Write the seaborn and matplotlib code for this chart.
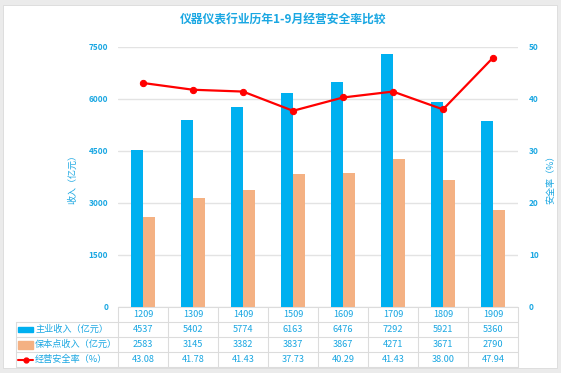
import numpy as np
import pandas as pd
import matplotlib
matplotlib.use('Agg')
import matplotlib.pyplot as plt
import matplotlib.transforms as mtransforms
from matplotlib.patches import Rectangle
from matplotlib.lines import Line2D
import seaborn as sns

# data
years = ['1209', '1309', '1409', '1509', '1609', '1709', '1809', '1909']
main_income = [4537, 5402, 5774, 6163, 6476, 7292, 5921, 5360]
breakeven_income = [2583, 3145, 3382, 3837, 3867, 4271, 3671, 2790]
safety_rate = [43.08, 41.78, 41.43, 37.73, 40.29, 41.43, 38.00, 47.94]
rate_labels = ['43.08', '41.78', '41.43', '37.73', '40.29', '41.43', '38.00', '47.94']
series_names = ['主业收入（亿元）', '保本点收入（亿元）', '经营安全率（%）']

blue = '#00B0F0'
orange = '#F4B183'
red = '#FF0000'
txt = '#1AA7E2'
grid = '#E3E3E3'

sns.set_theme(style='white')
plt.rcParams['font.family'] = ['Noto Sans CJK SC', 'DejaVu Sans']

fig = plt.figure(figsize=(5.61, 3.73), dpi=100)
fig.patch.set_facecolor('#EBEBEB')
fig.patches.append(Rectangle((3 / 561, 5 / 373), 554 / 561, 363 / 373,
                             transform=fig.transFigure, facecolor='white',
                             edgecolor='#DADADA', lw=0.6, zorder=-10))

ax = fig.add_axes([118 / 561, 1 - 307 / 373, 400 / 561, 260 / 373])
ax.set_facecolor('none')

df = pd.DataFrame({
    'year': years * 2,
    'value': main_income + breakeven_income,
    'series': [series_names[0]] * len(years) + [series_names[1]] * len(years),
})
sns.barplot(data=df, x='year', y='value', hue='series',
            palette=[blue, orange], width=0.48, ax=ax, legend=False,
            saturation=1, linewidth=0, zorder=3)

ax.set_ylim(0, 7500)
ax.set_yticks(np.arange(0, 7501, 1500))
ax.set_xlim(-0.5, len(years) - 0.5)
ax.set_xticks([])
ax.set_xlabel('')
ax.set_ylabel('收入（亿元）', color=txt, fontsize=6.5, labelpad=8)
ax.yaxis.grid(True, color=grid, lw=1, zorder=0)
ax.tick_params(axis='y', colors=txt, labelsize=6, length=0, pad=7)
for lab in ax.get_yticklabels():
    lab.set_fontweight('bold')
for s in ax.spines.values():
    s.set_visible(False)

ax2 = ax.twinx()
sns.lineplot(x=np.arange(len(years)), y=safety_rate, color=red, lw=1.6,
             marker='o', markersize=4.5, markeredgecolor=red, ax=ax2, zorder=5)
ax2.set_ylim(0, 50)
ax2.set_yticks(np.arange(0, 51, 10))
ax2.set_ylabel('安全率（%）', color=txt, fontsize=6.5, labelpad=5)
ax2.tick_params(axis='y', colors=txt, labelsize=6, length=0, pad=8)
for lab in ax2.get_yticklabels():
    lab.set_fontweight('bold')
for s in ax2.spines.values():
    s.set_visible(False)

fig.text(283 / 561, 1 - 20 / 373, '仪器仪表行业历年1-9月经营安全率比较',
         ha='center', va='center', color=txt, fontsize=8.5, fontweight='bold')

# data table under the chart
row_h = 15 / 260
left_col = -102 / 400
line_col = '#DCDCDC'
tb = mtransforms.blended_transform_factory(ax.transData, ax.transAxes)
rows = [main_income, breakeven_income, rate_labels]

# horizontal lines
ax.plot([-0.5, len(years) - 0.5], [0, 0], transform=tb, color=line_col,
        lw=0.8, clip_on=False)
for r in range(1, 5):
    ax.plot([left_col, 1], [-r * row_h, -r * row_h], transform=ax.transAxes,
            color=line_col, lw=0.8, clip_on=False)
# vertical lines
for i in range(len(years) + 1):
    ax.plot([i - 0.5, i - 0.5], [0, -4 * row_h], transform=tb,
            color=line_col, lw=0.8, clip_on=False)
ax.plot([left_col, left_col], [-row_h, -4 * row_h], transform=ax.transAxes,
        color=line_col, lw=0.8, clip_on=False)

for i, y in enumerate(years):
    ax.text(i, -0.5 * row_h, y, transform=tb, ha='center', va='center',
            color=txt, fontsize=6.6, clip_on=False)
    for r, vals in enumerate(rows):
        ax.text(i, -(r + 1.5) * row_h, str(vals[i]), transform=tb,
                ha='center', va='center', color=txt, fontsize=6.6,
                fontweight='medium', clip_on=False)

# row labels with legend keys
key_x0 = left_col + 2 / 400
key_w = 15 / 400
ax.add_patch(Rectangle((key_x0, -1.5 * row_h - 2.5 / 260), key_w, 5 / 260,
                       transform=ax.transAxes, color=blue, clip_on=False))
ax.add_patch(Rectangle((key_x0, -2.5 * row_h - 4 / 260), key_w, 8 / 260,
                       transform=ax.transAxes, color=orange, clip_on=False))
ax.add_line(Line2D([key_x0, key_x0 + key_w], [-3.5 * row_h, -3.5 * row_h],
                   transform=ax.transAxes, color=red, lw=1.5, clip_on=False))
ax.add_line(Line2D([key_x0 + key_w / 2], [-3.5 * row_h], transform=ax.transAxes,
                   color=red, marker='o', markersize=3.5, clip_on=False))
for r, name in enumerate(series_names):
    ax.text(key_x0 + key_w + 2 / 400, -(r + 1.5) * row_h, name,
            transform=ax.transAxes, ha='left', va='center', color=txt,
            fontsize=6.6, clip_on=False)

fig.savefig('out.png', dpi=100, facecolor=fig.get_facecolor())
